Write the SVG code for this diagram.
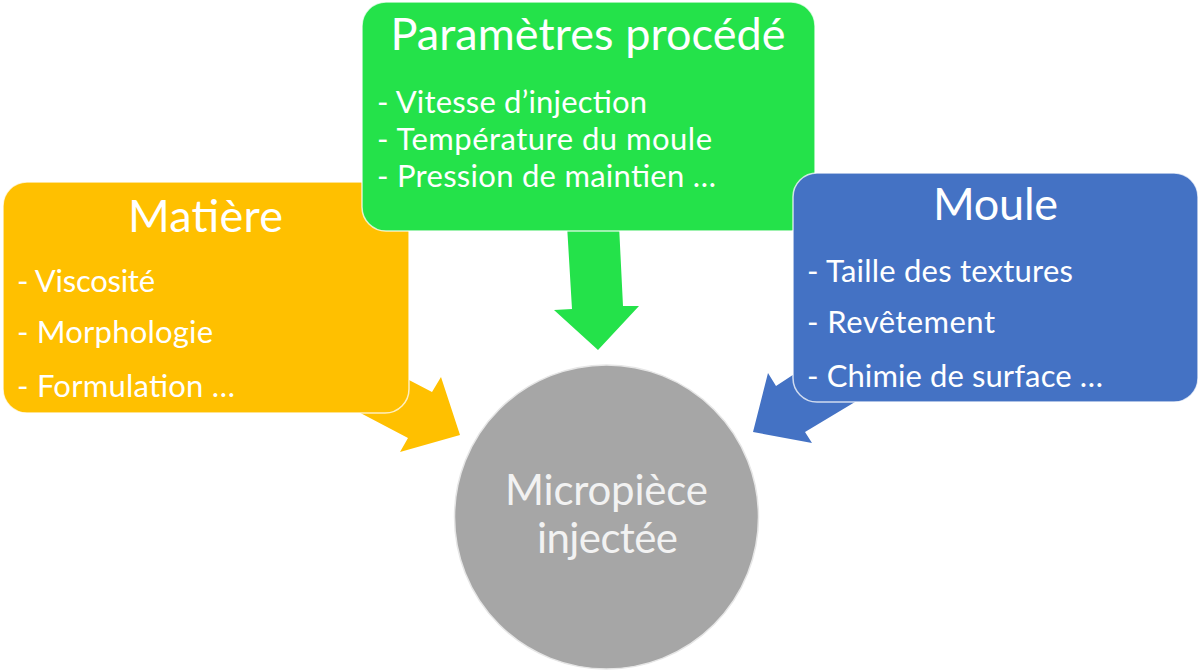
<svg xmlns="http://www.w3.org/2000/svg" width="1200" height="670" viewBox="0 0 1200 670">
<style>
.box{stroke:#ffffff;stroke-opacity:0.75;stroke-width:1.5}
.t{font-family:Lato,"Open Sans","Liberation Sans",sans-serif;fill:#ffffff}
.title{font-size:45px}
.item{font-size:31px}
.ctext{font-size:42px;fill:#f2f2f2}
</style>
<rect width="1200" height="670" fill="#ffffff"/>
<g id="connectors">
<polygon id="arrow-matiere" fill="#ffc000" points="340,344 432,392 441,377 460,435 400,452 408,438 330,397"/>
<polygon id="arrow-procede" fill="#24e24a" points="567,225 572,309 554,310 598,350 639,306 623,306 619,225"/>
<polygon id="arrow-moule" fill="#4472c4" points="860,331 776,386 768,373 753,432 812,443 805,432 880,387"/>
</g>
<g id="matiere">
<rect class="box" x="3" y="182" width="406" height="231" rx="24" fill="#ffc000"/>
<text class="t title" x="205.5" y="232" text-anchor="middle" textLength="155">Matière</text>
<text class="t item" x="17" y="292" textLength="138">- Viscosité</text>
<text class="t item" x="17" y="343" textLength="196">- Morphologie</text>
<text class="t item" x="17" y="397" textLength="218">- Formulation …</text>
</g>
<g id="procede">
<rect class="box" x="362" y="2" width="453" height="229" rx="24" fill="#24e24a"/>
<text class="t title" x="588" y="50" text-anchor="middle" textLength="395">Paramètres procédé</text>
<text class="t item" x="377" y="113" textLength="270">- Vitesse d’injection</text>
<text class="t item" x="377" y="150" textLength="335">- Température du moule</text>
<text class="t item" x="377" y="187" textLength="339">- Pression de maintien …</text>
</g>
<g id="moule">
<rect class="box" x="793" y="173" width="405" height="229" rx="24" fill="#4472c4"/>
<text class="t title" x="995.5" y="220" text-anchor="middle" textLength="125">Moule</text>
<text class="t item" x="807" y="282" textLength="266">- Taille des textures</text>
<text class="t item" x="807" y="333" textLength="188">- Revêtement</text>
<text class="t item" x="807" y="387" textLength="296">- Chimie de surface …</text>
</g>
<g id="micropiece">
<circle cx="606.5" cy="517" r="152" fill="#a6a6a6" stroke="#e6e6e6" stroke-width="1.5"/>
<text class="t ctext" x="606.5" y="505" text-anchor="middle" textLength="203">Micropièce</text>
<text class="t ctext" x="607.5" y="553" text-anchor="middle" textLength="141">injectée</text>
</g>
</svg>
